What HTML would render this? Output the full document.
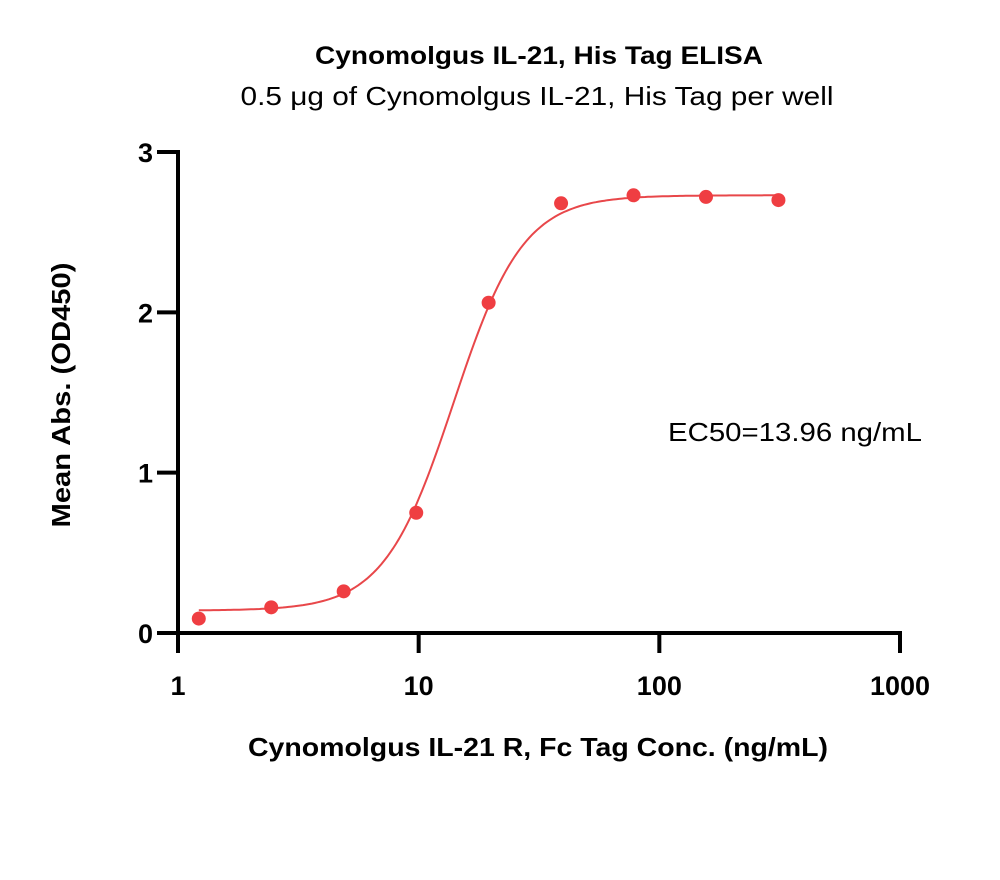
<!DOCTYPE html>
<html><head><meta charset="utf-8"><style>
body{margin:0;background:#fff;}
svg{display:block;font-family:"Liberation Sans",sans-serif;}
</style></head><body>
<svg id="chart" width="1000" height="880">
<text x="539" y="64" text-anchor="middle" font-size="25" font-weight="bold" fill="#000" textLength="448" lengthAdjust="spacingAndGlyphs">Cynomolgus IL-21, His Tag ELISA</text>
<text x="537" y="105" text-anchor="middle" font-size="26" fill="#000" textLength="593" lengthAdjust="spacingAndGlyphs">0.5 μg of Cynomolgus IL-21, His Tag per well</text>
<text x="538" y="756" text-anchor="middle" font-size="26" font-weight="bold" fill="#000" textLength="580" lengthAdjust="spacingAndGlyphs">Cynomolgus IL-21 R, Fc Tag Conc. (ng/mL)</text>
<text transform="translate(70,395) rotate(-90)" text-anchor="middle" font-size="26" font-weight="bold" fill="#000" textLength="265" lengthAdjust="spacingAndGlyphs">Mean Abs. (OD450)</text>
<text x="668" y="441" font-size="26" fill="#000" textLength="254" lengthAdjust="spacingAndGlyphs">EC50=13.96 ng/mL</text>
<g id="axes"></g>
<g id="marks"></g>
</svg>
<script>
const concentrations=[1.22,2.44,4.88,9.77,19.53,39.06,78.13,156.25,312.5];
const absorbances=[0.09,0.16,0.26,0.75,2.06,2.68,2.73,2.72,2.70];
const xTicks=[1,10,100,1000];
const yTicks=[0,1,2,3];
const fitBottom=0.14, fitTop=2.73, fitEC50=13.96, fitHill=3.0;
const ns="http://www.w3.org/2000/svg";
const X0=178,X1=900,Y0=633,Y1=152;
function xs(v){return X0+(Math.log10(v)-0)/3*(X1-X0);}
function ys(v){return Y0-(v/3)*(Y0-Y1);}
function mk(tag,attrs,parent){const e=document.createElementNS(ns,tag);for(const k in attrs)e.setAttribute(k,attrs[k]);parent.appendChild(e);return e;}
const axes=document.getElementById('axes'),marks=document.getElementById('marks');
let l=mk('line',{x1:157,x2:X1+2,y1:Y0,y2:Y0,stroke:'#000','stroke-width':4},axes);


l=mk('line',{x1:X0,x2:X0,y1:Y1-2,y2:Y0+2,stroke:'#000','stroke-width':4},axes);


xTicks.forEach(t=>{
 const x=xs(t);
 const tk=mk('line',{x1:x,x2:x,y1:Y0,y2:653,stroke:'#000','stroke-width':4},axes);
 
 
 const tx=mk('text',{x:x,y:695,'text-anchor':'middle','font-size':27,'font-weight':'bold'},axes);
 tx.textContent=t;
 
 
});
yTicks.forEach(t=>{
 const y=ys(t);
 const tk=mk('line',{x1:157,x2:X0,y1:y,y2:y,stroke:'#000','stroke-width':4},axes);
 
 
 const tx=mk('text',{x:153,y:y+10,'text-anchor':'end','font-size':27,'font-weight':'bold'},axes);
 tx.textContent=t;
 
 
});
let d='';
const lo=Math.log10(concentrations[0]),hi=Math.log10(concentrations[concentrations.length-1]);
for(let i=0;i<=200;i++){
 const c=Math.pow(10,lo+(hi-lo)*i/200);
 const v=fitBottom+(fitTop-fitBottom)/(1+Math.pow(fitEC50/c,fitHill));
 d+=(i?'L':'M')+xs(c).toFixed(1)+','+ys(v).toFixed(1);
}
const p=mk('path',{d:d,fill:'none',stroke:'#e8474a','stroke-width':2},marks);


concentrations.forEach((c,i)=>{
 const pt=mk('circle',{cx:xs(c),cy:ys(absorbances[i]),r:7,fill:'#ef3e42'},marks);
 
 
});
</script>
</body></html>
